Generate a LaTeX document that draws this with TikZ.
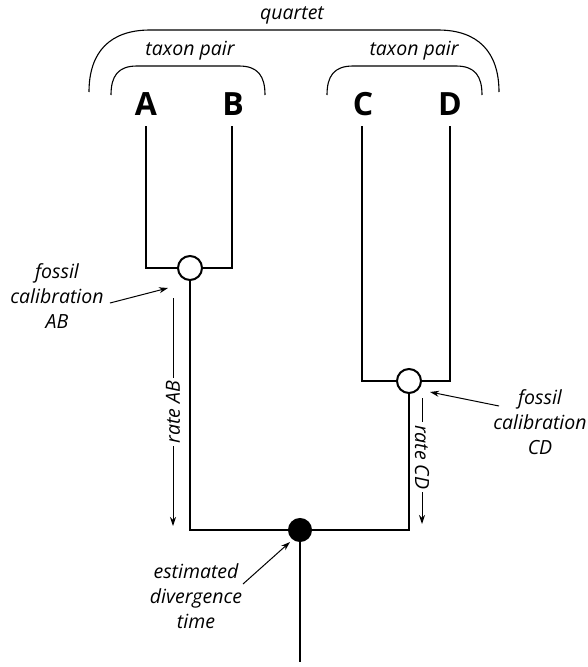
\documentclass[tikz,border=0pt]{standalone}
\usepackage{fontspec}
\setmainfont{Open Sans}
\usetikzlibrary{arrows.meta}
\begin{document}
\begin{tikzpicture}[x=1pt,y=-1pt,
  branch/.style={line width=2.6pt},
  bracketline/.style={line width=1.1pt},
  pointer/.style={line width=1pt,-{Stealth[length=9pt,width=6pt]}},
  taxon/.style={font=\fontsize{32}{32}\selectfont\bfseries,inner sep=0pt},
  note/.style={font=\fontsize{19.5}{25}\selectfont\itshape,align=center,inner sep=0pt},
  opennode/.style={circle,draw,fill=white,line width=2pt,minimum size=24pt,inner sep=0pt},
  filled/.style={circle,draw,fill=black,line width=2pt,minimum size=22pt,inner sep=0pt}]
\useasboundingbox (0,0) rectangle (587,667);

% taxon labels
\node[taxon] (A) at (146,104) {A};
\node[taxon] (B) at (233,104) {B};
\node[taxon] (C) at (363,104) {C};
\node[taxon] (D) at (450,104) {D};

% internal nodes
\node[opennode] (ab) at (190,268) {};
\node[opennode] (cd) at (409,381) {};
\node[filled] (root) at (300,530) {};
\coordinate (rootend) at (300,662);

% tree branches
\draw[branch] (146,126) |- (ab.west);
\draw[branch] (232,126) |- (ab.east);
\draw[branch] (362,126) |- (cd.west);
\draw[branch] (450,126) |- (cd.east);
\draw[branch] (ab.south) |- (root.west);
\draw[branch] (cd.south) |- (root.east);
\draw[branch] (root.south) -- (rootend);

% brackets
\draw[bracketline] (89,92) .. controls (89,52) and (110,30) .. (150,30) -- (438,30)
  .. controls (478,30) and (499,52) .. (499,92);
\draw[bracketline] (111,95) .. controls (111,76) and (118,66) .. (137,66) -- (239,66)
  .. controls (258,66) and (265,76) .. (265,95);
\draw[bracketline] (327,95) .. controls (327,76) and (334,66) .. (353,66) -- (456,66)
  .. controls (475,66) and (482,76) .. (482,95);
\node[note] (quartet) at (292,15) {quartet};
\node[note] (pairL) at (190,51) {taxon pair};
\node[note] (pairR) at (414,51) {taxon pair};

% rates
\coordinate (rABtop) at (173,298);
\coordinate (rABbot) at (173,526);
\draw[pointer] (rABtop) -- node[fill=white,rotate=90,note,inner xsep=3pt,inner ysep=1pt] {rate AB} (rABbot);
\coordinate (rCDtop) at (422,398);
\coordinate (rCDbot) at (422,524);
\draw[pointer] (rCDtop) -- node[fill=white,rotate=-90,note,inner xsep=3pt,inner ysep=1pt,pos=0.47] {rate CD} (rCDbot);

% annotations
\node[note] (fAB) at (57,296) {fossil\\calibration\\AB};
\coordinate (fABtip) at (168,288);
\draw[pointer] (110,303) -- (fABtip);
\node[note] (fCD) at (540,422) {fossil\\calibration\\CD};
\coordinate (fCDtip) at (430,392);
\draw[pointer] (499,406) -- (fCDtip);
\node[note] (est) at (196,596) {estimated\\divergence\\time};
\coordinate (esttip) at (290,542);
\draw[pointer] (243,584) -- (esttip);
\end{tikzpicture}
\end{document}
